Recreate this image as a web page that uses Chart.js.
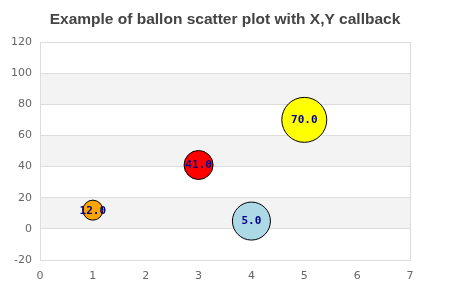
<!DOCTYPE html>
<html>
<head>
<meta charset="utf-8">
<script src="https://cdn.jsdelivr.net/npm/chart.js@4"></script>
<style>
  html, body { margin: 0; padding: 0; background: #fff; }
  #wrap { width: 450px; height: 300px; }
</style>
</head>
<body>
<div id="wrap"><canvas id="c" width="450" height="300"></canvas></div>
<script>
// Balloon data: x position, y value and balloon size for each point
const xValues = [1, 3, 4, 5];
const yValues = [12, 41, 5, 70];
const sizes = [10, 14.5, 19, 22.5];
const fills = ['orange', 'red', 'lightblue', 'yellow'];
const yTicks = [-20, 0, 20, 40, 60, 80, 100, 120];
const xTicks = [0, 1, 2, 3, 4, 5, 6, 7];

const points = xValues.map((x, i) => ({ x: x, y: yValues[i], r: sizes[i] }));

// Alternating horizontal bands behind the plot
const bandPlugin = {
  id: 'bands',
  beforeDraw(chart) {
    const { ctx, chartArea, scales } = chart;
    const y = scales.y;
    ctx.save();
    ctx.fillStyle = '#f3f3f3';
    for (let i = 0; i < yTicks.length - 1; i++) {
      if (i % 2 === 1) {
        const top = y.getPixelForValue(yTicks[i + 1]);
        const bottom = y.getPixelForValue(yTicks[i]);
        ctx.fillRect(chartArea.left, top, chartArea.right - chartArea.left, bottom - top);
      }
    }
    ctx.restore();
  }
};

// Value text printed in the middle of each balloon
const valueLabels = {
  id: 'valueLabels',
  afterDatasetsDraw(chart) {
    const { ctx } = chart;
    const meta = chart.getDatasetMeta(0);
    ctx.save();
    ctx.font = 'bold 11px "DejaVu Sans Mono", monospace';
    ctx.fillStyle = '#00008b';
    ctx.textAlign = 'center';
    ctx.textBaseline = 'middle';
    meta.data.forEach((el, i) => {
      ctx.fillText(yValues[i].toFixed(1), el.x, el.y + 0.5);
    });
    ctx.restore();
  }
};

new Chart(document.getElementById('c'), {
  type: 'bubble',
  data: {
    datasets: [{
      data: points,
      backgroundColor: fills,
      borderColor: '#000',
      borderWidth: 1,
      hoverRadius: 0
    }]
  },
  options: {
    responsive: false,
    animation: false,
    events: [],
    layout: { padding: 0 },
    plugins: {
      legend: { display: false },
      tooltip: { enabled: false },
      title: {
        display: true,
        text: 'Example of ballon scatter plot with X,Y callback',
        color: '#444',
        font: { family: '"Liberation Sans", Arial, sans-serif', size: 15.5, weight: 'bold' },
        padding: { top: 10, bottom: 13.4 }
      }
    },
    scales: {
      x: {
        type: 'linear',
        min: 0,
        max: 7,
        afterBuildTicks(scale) { scale.ticks = xTicks.map(v => ({ value: v })); },
        afterFit(scale) { scale.height = 40; },
        grid: {
          drawTicks: false,
          color: ctx => (ctx.tick && ctx.tick.value === 7 ? '#dddddd' : 'rgba(0,0,0,0)')
        },
        border: { color: '#dddddd' },
        ticks: {
          color: '#666',
          padding: 10,
          font: { family: '"DejaVu Sans", sans-serif', size: 11 }
        }
      },
      y: {
        type: 'linear',
        min: -20,
        max: 120,
        afterBuildTicks(scale) { scale.ticks = yTicks.map(v => ({ value: v })); },
        afterFit(scale) { scale.width = 40; },
        grid: { drawTicks: false, color: '#dddddd' },
        border: { color: '#dddddd' },
        ticks: {
          color: '#666',
          padding: 8,
          font: { family: '"DejaVu Sans", sans-serif', size: 11 }
        }
      },
      // empty right-hand margin so the title is centred on the whole canvas
      yRight: {
        type: 'linear',
        position: 'right',
        display: true,
        afterFit(scale) { scale.width = 40; },
        grid: { display: false, drawTicks: false },
        border: { display: false },
        ticks: { display: false }
      }
    }
  },
  plugins: [bandPlugin, valueLabels]
});
</script>
</body>
</html>
